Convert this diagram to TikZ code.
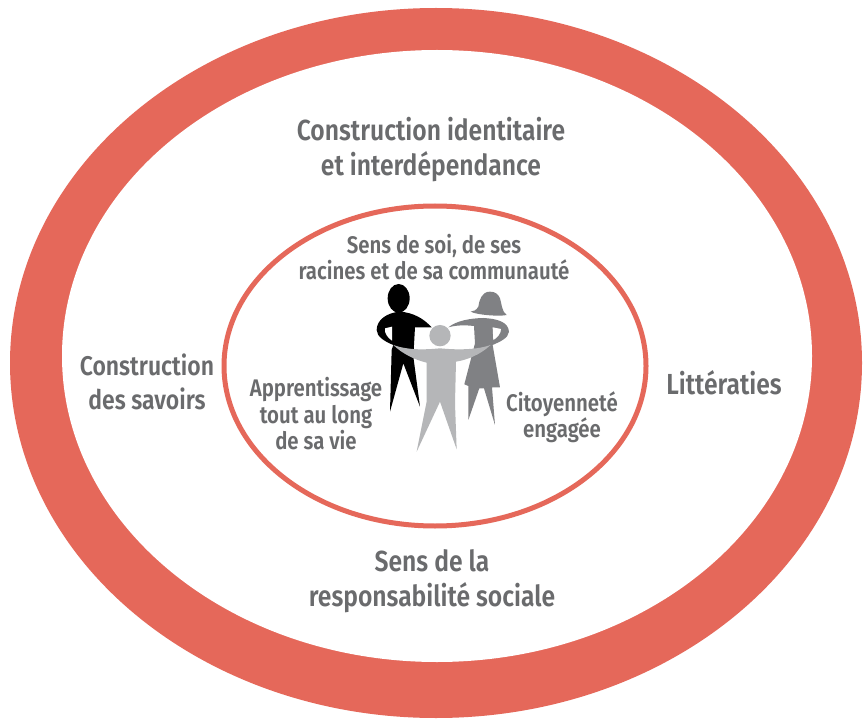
\documentclass[tikz,border=0pt]{standalone}
\usepackage{fontspec}
\newfontfamily\labelfont[FakeStretch=0.85]{Fira Sans SemiBold}
\definecolor{ringred}{HTML}{E5685A}
\definecolor{labelgrey}{HTML}{6A6B6D}
\definecolor{womangrey}{HTML}{808184}
\definecolor{childgrey}{HTML}{B5B6B8}
\tikzset{
  biglabel/.style={text=labelgrey, align=center, inner sep=0pt, font=\labelfont\fontsize{29}{35}\selectfont},
  midlabel/.style={text=labelgrey, align=center, inner sep=0pt, font=\labelfont\fontsize{27}{34}\selectfont},
  smalllabel/.style={text=labelgrey, align=center, inner sep=0pt, font=\labelfont\fontsize{24}{26.5}\selectfont}
}
\begin{document}
\begin{tikzpicture}[x=1pt, y=-1pt]
        \useasboundingbox (0, 0) rectangle (867, 719);
        \fill[white] (0, 0) rectangle (867, 719);
        \fill[ringred] (436, 363) ellipse [x radius=426, y radius=355];
        \fill[white] (437, 356) ellipse [x radius=375, y radius=306];
        \draw[ringred, line width=5pt] (435, 366) ellipse [x radius=211, y radius=160];
        \begin{scope}[shift={(360, 270)}, x=0.3333pt, y=-0.3333pt]
          \fill[black] (116, 85) ellipse [x radius=33, y radius=43];
          \fill[black] (215, 172) .. controls (190, 145) and (160, 128) .. (120, 125)
            .. controls (80, 128) and (50, 150) .. (50, 180) .. controls (50, 200) and (75, 215) .. (100, 225)
            -- (95, 240) -- (90, 425) -- (130, 280) -- (180, 410) -- (160, 260) -- (165, 172) -- cycle;
          \fill[white] (75, 175) .. controls (72, 190) and (85, 205) .. (96, 212) -- (96, 170) -- cycle;
          \fill[womangrey] (390, 65) .. controls (365, 65) and (358, 90) .. (355, 110) .. controls (350, 120) and (340, 125) .. (332, 125)
            .. controls (350, 135) and (420, 140) .. (440, 135) .. controls (425, 125) and (425, 100) .. (420, 85) .. controls (415, 72) and (405, 65) .. (390, 65) -- cycle;
          \fill[womangrey] (265, 172) .. controls (290, 152) and (330, 145) .. (370, 144)
            .. controls (410, 146) and (445, 155) .. (447, 185) .. controls (445, 205) and (420, 215) .. (398, 225)
            -- (420, 352) -- (396, 352) -- (405, 465) -- (372, 355) -- (358, 355) -- (325, 450) -- (325, 348) -- (313, 343)
            -- (345, 220) -- (342, 168) .. controls (315, 165) and (290, 165) .. (265, 172) -- cycle;
          \fill[white] (423, 177) .. controls (424, 190) and (410, 205) .. (400, 210) -- (398, 172) -- cycle;
          \fill[childgrey] (240, 197) circle [radius=32];
          \fill[childgrey] (100, 225) .. controls (140, 240) and (190, 240) .. (240, 235) .. controls (290, 240) and (350, 240) .. (392, 225)
            .. controls (360, 255) and (320, 270) .. (288, 275) -- (285, 400) -- (290, 538) -- (240, 395) -- (170, 545) -- (200, 395) -- (200, 278)
            .. controls (165, 270) and (125, 250) .. (100, 225) -- cycle;
        \end{scope}
        \node[biglabel] (identitaire) at (431, 150) {Construction identitaire\\et interdépendance};
        \node[midlabel] (savoirs) at (147, 382) {Construction\\des savoirs};
        \node[biglabel] (litteraties) at (724, 383) {Littératies};
        \node[biglabel] (responsabilite) at (432, 581) {Sens de la\\responsabilité sociale};
        \node[smalllabel] (soi) at (434, 257) {Sens de soi, de ses\\racines et de sa communauté};
        \node[smalllabel] (apprentissage) at (316, 414) {Apprentissage\\tout au long\\de sa vie};
        \node[smalllabel] (citoyennete) at (562, 417) {Citoyenneté\\engagée};
      \end{tikzpicture}
\end{document}
